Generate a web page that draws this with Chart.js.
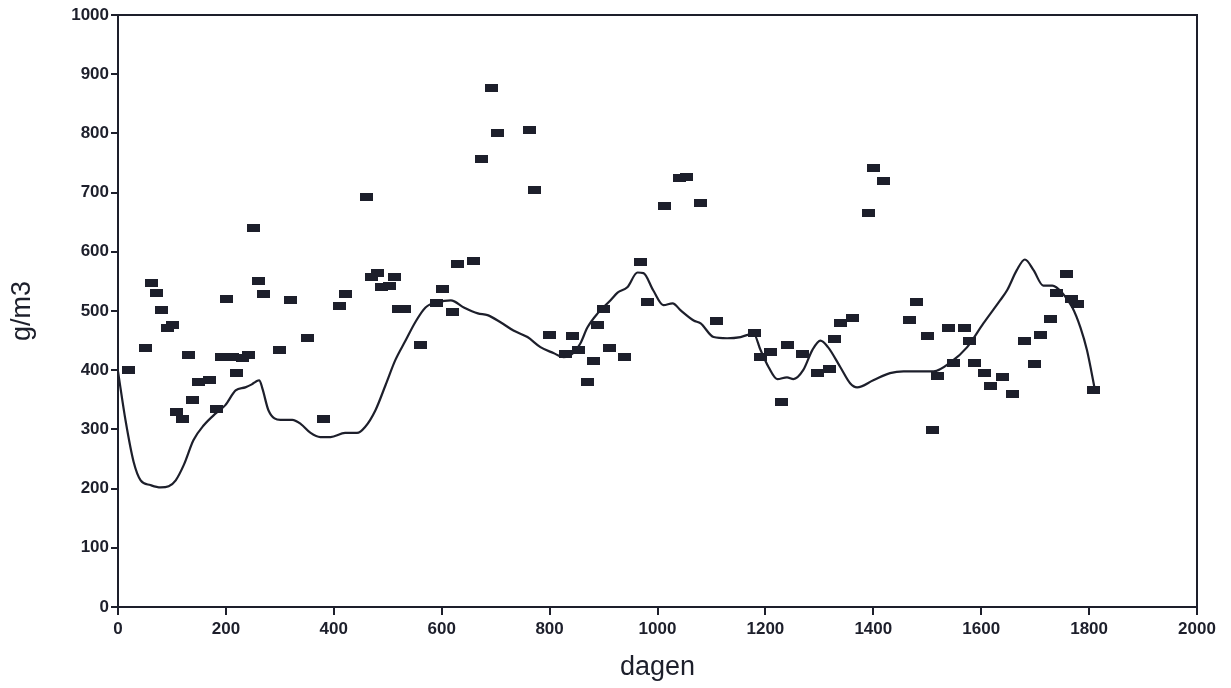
<!DOCTYPE html>
<html>
<head>
<meta charset="utf-8">
<script src="https://cdn.jsdelivr.net/npm/chart.js@4/dist/chart.umd.min.js"></script>
<style>
  html, body { margin: 0; padding: 0; background: #fff; }
  #wrap { width: 1231px; height: 688px; }
</style>
</head>
<body>
<div id="wrap"><canvas id="chart" width="1231" height="688"></canvas></div>
<script>
// measured samples (day, g/m3)
const sampleDays = [20, 51, 62, 72, 80, 92, 101, 109, 120, 130, 139, 150, 170, 183, 192, 201, 212, 220, 231, 242,
  251, 261, 270, 299, 320, 351, 381, 410, 422, 461, 470, 481, 489, 503, 512, 520, 531, 561, 591, 602,
  620, 629, 659, 674, 693, 704, 763, 772, 799, 829, 843, 854, 870, 881, 889, 900, 911, 939, 969, 981,
  1013, 1041, 1054, 1080, 1109, 1180, 1191, 1210, 1230, 1241, 1269, 1297, 1319, 1328, 1339, 1361, 1391, 1400, 1418, 1467,
  1480, 1501, 1510, 1519, 1539, 1549, 1569, 1578, 1587, 1607, 1617, 1639, 1658, 1680, 1698, 1710, 1728, 1739, 1759, 1767,
  1778, 1808];
const sampleValues = [400, 437, 547, 530, 501, 472, 476, 329, 317, 425, 349, 380, 383, 334, 423, 520, 423, 395, 420, 425,
  641, 550, 528, 434, 518, 454, 317, 508, 528, 692, 558, 565, 541, 543, 558, 504, 504, 442, 513, 538,
  499, 580, 584, 756, 876, 800, 806, 705, 459, 428, 457, 434, 380, 415, 477, 504, 437, 422, 582, 516,
  678, 724, 727, 683, 483, 462, 422, 430, 346, 442, 428, 396, 402, 452, 479, 488, 665, 742, 719, 484,
  515, 457, 299, 390, 471, 413, 471, 450, 413, 395, 373, 388, 359, 449, 410, 460, 486, 531, 562, 521,
  511, 366];

// smoothed curve (day, g/m3)
const curveDays = [0, 14, 29, 42, 60, 79, 94, 107, 122, 140, 159, 181, 199, 218, 236, 248, 256, 262, 268, 279, 301, 323,
  339, 357, 375, 394, 421, 443, 458, 477, 496, 514, 533, 551, 570, 593, 617, 641, 667, 685, 709, 733,
  759, 783, 807, 826, 844, 857, 870, 889, 913, 926, 944, 963, 974, 992, 1011, 1028, 1043, 1067, 1080, 1104,
  1129, 1154, 1178, 1191, 1206, 1222, 1240, 1252, 1270, 1287, 1302, 1316, 1339, 1357, 1370, 1400, 1431, 1456, 1512, 1543,
  1574, 1604, 1635, 1648, 1666, 1681, 1697, 1715, 1732, 1750, 1769, 1784, 1796, 1811];
const curveValues = [398, 315, 245, 214, 206, 202, 204, 214, 240, 282, 307, 327, 341, 366, 371, 376, 381, 383, 368, 332, 316, 316,
  309, 294, 287, 287, 294, 294, 304, 332, 375, 417, 450, 481, 506, 515, 518, 506, 496, 493, 481, 467,
  456, 439, 429, 422, 429, 445, 472, 496, 518, 531, 540, 565, 564, 535, 510, 513, 501, 484, 479, 456,
  454, 456, 462, 434, 405, 385, 388, 385, 400, 434, 450, 439, 405, 378, 371, 383, 395, 398, 398, 413,
  439, 479, 518, 535, 569, 587, 569, 543, 543, 531, 506, 472, 434, 366];

const ink = '#1d1f2b';
const tickFont = { family: 'Arial, Liberation Sans, sans-serif', size: 17, weight: 'bold' };
const titleFont = { family: 'Arial, Liberation Sans, sans-serif', size: 27 };

// rectangular marker
const marker = document.createElement('canvas');
marker.width = 13;
marker.height = 8;
const mctx = marker.getContext('2d');
mctx.fillStyle = ink;
mctx.fillRect(0, 0, 13, 8);

// frame around plot area (top and right sides)
const frame = {
  id: 'frame',
  afterDraw(chart) {
    const { ctx, chartArea: a } = chart;
    ctx.save();
    ctx.strokeStyle = ink;
    ctx.lineWidth = 2;
    ctx.strokeRect(a.left, a.top, a.right - a.left, a.bottom - a.top);
    ctx.restore();
  }
};

new Chart(document.getElementById('chart'), {
  type: 'scatter',
  data: {
    datasets: [
      {
        label: 'metingen',
        data: sampleDays.map((d, i) => ({ x: d, y: sampleValues[i] })),
        pointStyle: marker,
        pointRadius: 6,
        showLine: false
      },
      {
        label: 'gemiddelde',
        data: curveDays.map((d, i) => ({ x: d, y: curveValues[i] })),
        showLine: true,
        borderColor: ink,
        borderWidth: 2.2,
        pointRadius: 0,
        tension: 0.4,
        cubicInterpolationMode: 'monotone'
      }
    ]
  },
  options: {
    responsive: false,
    animation: false,
    layout: { padding: { top: 15, right: 34, left: 0, bottom: 0 } },
    plugins: { legend: { display: false }, tooltip: { enabled: false } },
    scales: {
      x: {
        type: 'linear',
        min: 0,
        max: 2000,
        afterFit: s => { s.height = 81; },
        ticks: {
          stepSize: 200,
          color: ink,
          font: tickFont,
          padding: 4,
          maxRotation: 0,
          callback: v => String(v)
        },
        grid: { drawOnChartArea: false, tickLength: 8, color: ink, lineWidth: 2 },
        border: { color: ink, width: 2 },
        title: {
          display: true,
          text: 'dagen',
          color: ink,
          font: titleFont,
          padding: { top: 0 }
        }
      },
      y: {
        min: 0,
        max: 1000,
        afterFit: s => { s.width = 118; },
        ticks: {
          stepSize: 100,
          color: ink,
          font: tickFont,
          padding: 2,
          callback: v => String(v)
        },
        grid: { drawOnChartArea: false, tickLength: 7, color: ink, lineWidth: 2 },
        border: { color: ink, width: 2 },
        title: {
          display: true,
          text: 'g/m3',
          color: ink,
          font: titleFont,
          padding: { bottom: 0, top: 6 }
        }
      }
    }
  },
  plugins: [frame]
});
</script>
</body>
</html>
